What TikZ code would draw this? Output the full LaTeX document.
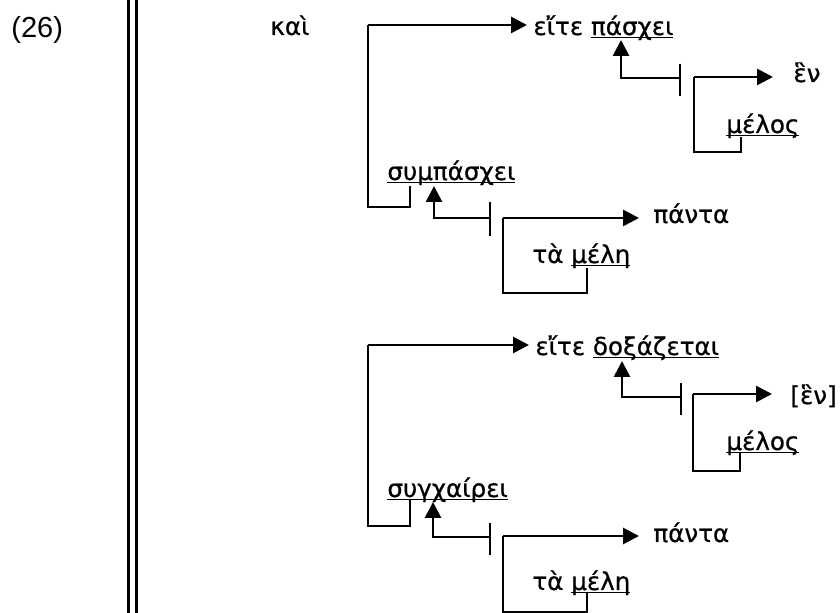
\documentclass[tikz,border=0pt]{standalone}
\usepackage{fontspec}
\setmainfont{DejaVu Sans}[FakeBold=0.6]
\newfontfamily\numfont{Liberation Sans}
\usetikzlibrary{arrows.meta}
\tikzstyle{word} = [anchor=base west, inner sep=3pt, font=\fontsize{12.3}{14}\selectfont]
\tikzstyle{line} = [line width=1.4pt]
\tikzstyle{arrow} = [line width=1.4pt,-{Triangle[length=8pt,width=8pt]}]
\newcommand{\uwd}[1]{\underline{\smash{#1}}}

\begin{document}
\begin{tikzpicture}[x=0.5pt,y=-0.5pt]
\useasboundingbox (0,0) rectangle (840,613);

\node (num) [anchor=base west, inner sep=0, font=\numfont\fontsize{14.5}{16}\selectfont] at (11,38) {(26)};
\draw [line width=1.5pt] (128,-2) -- (128,615);
\draw [line width=1.5pt] (136.5,-2) -- (136.5,615);
\node (kai) [word] at (264,35) {καὶ};

% first block
\node (eite1) [word] at (527,35) {εἴτε \uwd{πάσχει}};
\node (sym1) [word] at (381,180) {\uwd{συμπάσχει}};
\node (hen1) [word] at (787,82) {ἓν};
\node (melos1) [word] at (720,133) {\uwd{μέλος}};
\node (panta1) [word] at (647,223) {πάντα};
\node (mele1) [word] at (526,263) {τὰ \uwd{μέλη}};

\coordinate (k1) at (368,25);
\coordinate (s1) at (410,186);
\coordinate (b1) at (680,78);
\coordinate (u1) at (621,40);
\coordinate (k2) at (694,77);
\coordinate (m1) at (741,137);
\coordinate (b2) at (490,218);
\coordinate (u2) at (434,186);
\coordinate (k3) at (503,218);
\coordinate (m2) at (587,268);

\draw [arrow] (k1) -- (k1 -| eite1.west);
\draw [line] (k1) -- (368,207) -| (s1);
\draw [arrow] (b1) -| (u1);
\draw [line] ([yshift=7pt]b1) -- ([yshift=-9pt]b1);
\draw [arrow, shorten >=7pt] (k2) -- (k2 -| hen1.west);
\draw [line] (k2) -- (694,152) -| (m1);
\draw [arrow] (b2) -| (u2);
\draw [line] ([yshift=8pt]b2) -- ([yshift=-9pt]b2);
\draw [arrow, shorten >=4pt] (k3) -- (k3 -| panta1.west);
\draw [line] (k3) -- (503,293) -| (m2);

% second block
\node (eite2) [word] at (529,355) {εἴτε \uwd{δοξάζεται}};
\node (syn2) [word] at (381,497) {\uwd{συγχαίρει}};
\node (hen2) [word] at (784,404) {[ἓν]};
\node (melos2) [word] at (720,450) {\uwd{μέλος}};
\node (panta2) [word] at (647,542) {πάντα};
\node (mele2) [word] at (526,590) {τὰ \uwd{μέλη}};

\coordinate (k4) at (368,345);
\coordinate (s2) at (410,500);
\coordinate (b3) at (681,397);
\coordinate (u3) at (622,361);
\coordinate (k5) at (693,394);
\coordinate (m3) at (740,453);
\coordinate (b4) at (490,537);
\coordinate (u4) at (433,502);
\coordinate (k6) at (503,536);
\coordinate (m4) at (587,592);

\draw [arrow] (k4) -- (k4 -| eite2.west);
\draw [line] (k4) -- (368,526) -| (s2);
\draw [arrow] (b3) -| (u3);
\draw [line] ([yshift=7pt]b3) -- ([yshift=-9pt]b3);
\draw [arrow, shorten >=6pt] (k5) -- (k5 -| hen2.west);
\draw [line] (k5) -- (693,471) -| (m3);
\draw [arrow] (b4) -| (u4);
\draw [line] ([yshift=7pt]b4) -- ([yshift=-9pt]b4);
\draw [arrow, shorten >=4pt] (k6) -- (k6 -| panta2.west);
\draw [line] (k6) -- (503,612) -| (m4);

\end{tikzpicture}
\end{document}
